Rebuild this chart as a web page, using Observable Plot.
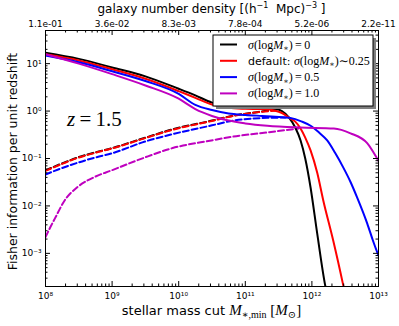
<!DOCTYPE html>
<html><head><meta charset="utf-8">
<script src="https://cdn.jsdelivr.net/npm/d3@7"></script>
<script src="https://cdn.jsdelivr.net/npm/@observablehq/plot@0.6"></script>
<style>body{margin:0;background:#fff} svg{display:block}</style>
</head><body><div id="chart"></div>
<script>
// ---- data (log10 stellar mass cut, Fisher information per unit redshift) ----
const solidBlack = [[8.0,17.0],[8.5,12.6],[9.0,8.3],[9.5,5.4],[10.0,2.95],[10.25,2.14],[10.5,1.51],[10.75,1.26],[11.0,1.17],[11.25,1.15],[11.45,1.10],[11.55,1.0],[11.66,0.72],[11.75,0.45],[11.83,0.24],[11.9,0.10],[11.98,0.0245],[12.08,0.0026],[12.2,0.00021],[12.25,0.0001]];
const solidRed = [[8.0,15.8],[8.5,11.7],[9.0,7.6],[9.5,4.8],[10.0,2.63],[10.25,1.9],[10.5,1.38],[10.75,1.17],[11.0,1.12],[11.25,1.10],[11.45,1.02],[11.55,0.91],[11.66,0.72],[11.75,0.60],[11.83,0.43],[11.9,0.275],[11.98,0.148],[12.08,0.05],[12.17,0.0132],[12.32,0.00186],[12.47,0.000214],[12.52,0.0001]];
const solidBlue = [[8.0,14.8],[8.5,10.7],[9.0,6.9],[9.5,4.3],[10.0,2.3],[10.25,1.35],[10.5,1.05],[10.75,0.89],[11.0,0.83],[11.25,0.79],[11.45,0.76],[11.66,0.72],[11.85,0.60],[11.98,0.49],[12.1,0.36],[12.23,0.24],[12.35,0.13],[12.47,0.065],[12.58,0.032],[12.68,0.015],[12.83,0.0043],[12.92,0.0018],[13.0,0.00089]];
const solidMagenta = [[8.0,15.8],[8.5,10.0],[9.0,6.0],[9.5,3.47],[10.0,1.82],[10.25,1.1],[10.5,0.79],[10.75,0.63],[11.0,0.55],[11.33,0.49],[11.83,0.45],[12.33,0.43],[12.58,0.34],[12.83,0.21],[12.97,0.105],[13.0,0.089]];
const dashedBlack = [[8.0,0.056],[8.25,0.079],[8.5,0.107],[8.75,0.135],[9.0,0.166],[9.5,0.275],[9.9,0.41],[10.5,0.63],[10.8,0.79],[11.2,0.96],[11.45,1.08]];
const dashedRed = [[8.0,0.055],[8.25,0.077],[8.5,0.105],[8.75,0.132],[9.0,0.163],[9.5,0.27],[9.9,0.40],[10.5,0.62],[10.8,0.78],[11.2,0.95],[11.45,1.02]];
const dashedBlue = [[8.0,0.046],[8.25,0.063],[8.5,0.083],[8.75,0.105],[9.0,0.129],[9.5,0.229],[9.9,0.324],[10.5,0.50],[10.82,0.63],[11.33,0.72],[11.6,0.73]];
const dashedMagenta = [[8.0,0.0022],[8.07,0.0035],[8.14,0.0054],[8.29,0.0132],[8.48,0.025],[8.74,0.041],[8.99,0.056],[9.49,0.105],[9.91,0.166],[10.49,0.24],[10.82,0.29],[11.33,0.355],[11.8,0.43]];

const xMajor = [1e8,1e9,1e10,1e11,1e12,1e13];
const topTickLabels = ["1.1e-01","3.6e-02","8.3e-03","7.8e-04","5.2e-06","2.2e-11"];
const yMajor = [1e-3,1e-2,1e-1,1,10];
const yDomain = [2e-4, 50];
const legendLabels = ["0", "~0.25", "0.5", "1.0"];
const colors = ["#000000", "#ff0000", "#0000ff", "#bf00bf"];

// ---- layout ----
const W = 399, H = 326, mL = 45, mR = 21, mT = 30, mB = 40;
const pW = W - mL - mR, pH = H - mT - mB;

const supMap = {"-":"⁻","0":"⁰","1":"¹","2":"²","3":"³","4":"⁴","5":"⁵","6":"⁶","7":"⁷","8":"⁸","9":"⁹"};
const sup = s => String(s).split("").map(c => supMap[c]).join("");
const pow = d => "10" + sup(Math.round(Math.log10(d)));
const mult = [2,3,4,5,6,7,8,9];
const xMinor = xMajor.slice(0, -1).flatMap(v => mult.map(m => m * v));
const yMinor = [1e-4, ...yMajor].flatMap(v => mult.map(m => m * v)).filter(v => v >= yDomain[0] && v <= yDomain[1]);

const toRows = a => a.map(([lm, f]) => ({M: 10 ** lm, F: f}));
const solids = [solidBlack, solidRed, solidBlue, solidMagenta];
const dashes = [dashedBlack, dashedRed, dashedBlue, dashedMagenta];

const marks = [];
dashes.forEach((s, i) => marks.push(Plot.line(toRows(s), {x: "M", y: "F", stroke: colors[i], strokeWidth: 2, strokeDasharray: "6,3", curve: "monotone-x", clip: true})));
solids.forEach((s, i) => marks.push(Plot.line(toRows(s), {x: "M", y: "F", stroke: colors[i], strokeWidth: 2, curve: "monotone-x", clip: true})));

const chart = Plot.plot({
  width: W, height: H,
  marginLeft: mL, marginRight: mR, marginTop: mT, marginBottom: mB,
  style: {fontFamily: "'DejaVu Sans', sans-serif", fontSize: "9px", background: "#fff", color: "#000"},
  x: {type: "log", domain: [1e8, 1e13]},
  y: {type: "log", domain: yDomain},
  marks: [
    ...marks,
    Plot.ruleX(xMajor, {x: d => d, insetTop: pH - 5, stroke: "#000"}),
    Plot.ruleX(xMajor, {x: d => d, insetBottom: pH - 5, stroke: "#000"}),
    Plot.ruleX(xMinor, {x: d => d, insetTop: pH - 2.5, stroke: "#000"}),
    Plot.ruleX(xMinor, {x: d => d, insetBottom: pH - 2.5, stroke: "#000"}),
    Plot.ruleY(yMajor, {y: d => d, insetRight: pW - 5, stroke: "#000"}),
    Plot.ruleY(yMajor, {y: d => d, insetLeft: pW - 5, stroke: "#000"}),
    Plot.ruleY(yMinor, {y: d => d, insetRight: pW - 2.5, stroke: "#000"}),
    Plot.ruleY(yMinor, {y: d => d, insetLeft: pW - 2.5, stroke: "#000"}),
    Plot.frame({stroke: "#000", strokeWidth: 1}),
    Plot.axisX({anchor: "bottom", ticks: xMajor, tickSize: 0, tickPadding: 6, tickFormat: pow, label: null}),
    Plot.axisX({anchor: "top", ticks: xMajor, tickSize: 0, tickPadding: 4, tickFormat: d => topTickLabels[Math.round(Math.log10(d)) - 8], label: null}),
    Plot.axisY({anchor: "left", ticks: yMajor, tickSize: 0, tickPadding: 4, tickFormat: pow, label: null}),
    Plot.text(["Fisher information per unit redshift"], {frameAnchor: "left", textAnchor: "middle", dx: -33, dy: 3, rotate: -90, fontSize: 12.5, text: d => d})
  ]
});
document.getElementById("chart").appendChild(chart);

// ---- rich text annotations ----
const svg = d3.select(chart);
const serif = "'Liberation Serif', 'DejaVu Serif', serif";
const g = svg.append("g").attr("fill", "#000").attr("text-anchor", "start");

// x label
const xl = g.append("text").attr("x", mL + pW / 2).attr("y", H - 11).attr("text-anchor", "middle")
  .attr("font-family", "'DejaVu Sans', sans-serif").attr("font-size", 13);
xl.append("tspan").text("stellar mass cut ");
xl.append("tspan").attr("font-family", serif).attr("font-style", "italic").attr("font-size", 15).text("M");
xl.append("tspan").attr("font-family", serif).attr("font-size", 10).attr("dy", 3).text("∗,min");
xl.append("tspan").attr("font-family", serif).attr("font-size", 15).attr("dy", -3).text(" [");
xl.append("tspan").attr("font-family", serif).attr("font-style", "italic").attr("font-size", 15).text("M");
xl.append("tspan").attr("font-family", serif).attr("font-size", 10).attr("dy", 3).text("⊙");
xl.append("tspan").attr("font-family", serif).attr("font-size", 15).attr("dy", -3).text("]");

// top label
const tl = g.append("text").attr("x", mL + pW / 2).attr("y", 13).attr("text-anchor", "middle")
  .attr("font-family", "'DejaVu Sans', sans-serif").attr("font-size", 12);
tl.append("tspan").text("galaxy number density [(h");
tl.append("tspan").attr("font-size", 8).attr("dy", -5).text("−1");
tl.append("tspan").attr("dy", 5).text("  Mpc)");
tl.append("tspan").attr("font-size", 8).attr("dy", -5).text("−3");
tl.append("tspan").attr("dy", 5).text(" ]");

// z label
const zl = g.append("text").attr("x", mL + 22).attr("y", 126).attr("font-family", serif).attr("font-size", 21);
zl.append("tspan").attr("font-style", "italic").text("z");
zl.append("tspan").text("\u2009=\u20091.5");

// legend
const lx = 213, ly = 35, lw = 160, lh = 71;
g.append("rect").attr("x", lx + 3).attr("y", ly + 3).attr("width", lw).attr("height", lh).attr("fill", "#7f7f7f");
g.append("rect").attr("x", lx).attr("y", ly).attr("width", lw).attr("height", lh).attr("fill", "#fff").attr("stroke", "#000").attr("stroke-width", 1);
legendLabels.forEach((lab, i) => {
  const yy = ly + 9.5 + i * 16.3;
  g.append("line").attr("x1", lx + 7).attr("x2", lx + 24).attr("y1", yy).attr("y2", yy).attr("stroke", colors[i]).attr("stroke-width", 2);
  const t = g.append("text").attr("x", lx + 35).attr("y", yy + 4).attr("font-family", serif).attr("font-size", 12).attr("text-anchor", "start");
  if (i === 1) t.append("tspan").attr("font-family", "'DejaVu Sans', sans-serif").attr("font-size", 11).text("default: ");
  t.append("tspan").attr("font-style", "italic").text("σ");
  t.append("tspan").text("(log");
  t.append("tspan").attr("font-style", "italic").text("M");
  t.append("tspan").attr("font-size", 8).attr("dy", 2.5).text("∗");
  t.append("tspan").attr("dy", -2.5).text(")");
  t.append("tspan").text(lab.startsWith("~") ? "∼" + lab.slice(1) : "\u2009=\u2009" + lab);
});
</script></body></html>
